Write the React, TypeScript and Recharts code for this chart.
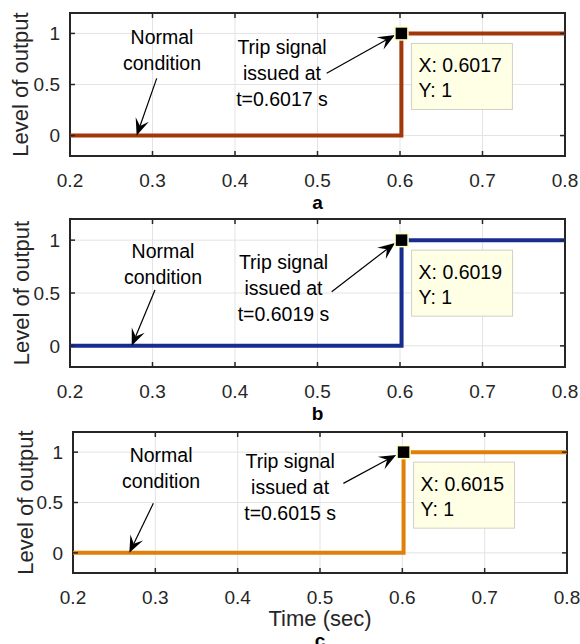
import { LineChart, Line, XAxis, YAxis, CartesianGrid, ReferenceArea, ReferenceDot, ReferenceLine } from 'recharts'

// step signals, one per panel (time in s, output level)
const TIME_A = [0.2, 0.6017, 0.6017, 0.8]
const TIME_B = [0.2, 0.6019, 0.6019, 0.8]
const TIME_C = [0.2, 0.6015, 0.6015, 0.8]
const LEVEL = [0, 0, 1, 1]
const TRIP_TIMES = [0.6017, 0.6019, 0.6015]
const PANEL_LETTERS = ['a', 'b', 'c']

const X_TICKS = [0.2, 0.3, 0.4, 0.5, 0.6, 0.7, 0.8]
const Y_TICKS = [0, 0.5, 1]
const X_DOMAIN = [0.2, 0.8]
const Y_DOMAIN = [-0.2, 1.2]

const FONT = '"Liberation Sans", Arial, Helvetica, sans-serif'
const AXIS = '#262626'

type Pt = [number, number]
interface Panel {
  time: number[]
  color: string
  top: number
  height: number
  plotTop: number
  plotBottom: number
  left: number
  right: number
  yLabelX: number
  xTitle?: string
  letterDy: number
  normal: Pt
  normalArrow: [Pt, Pt]
  trip: Pt
  tripArrow: [Pt, Pt]
}

const PANELS: Panel[] = [
  {
    time: TIME_A, color: '#A1370B', top: 0, height: 215, plotTop: 13, plotBottom: 156, left: 70, right: 565,
    yLabelX: 20, letterDy: 53,
    normal: [0.3115, 0.8376], normalArrow: [[0.3051, 0.56], [0.2808, 0]],
    trip: [0.457, 0.61], tripArrow: [[0.5111, 0.61], [0.5939, 0.985]],
  },
  {
    time: TIME_B, color: '#192D8E', top: 205, height: 222, plotTop: 14, plotBottom: 162, left: 70, right: 565,
    yLabelX: 21, letterDy: 53,
    normal: [0.3127, 0.77], normalArrow: [[0.303, 0.528], [0.2748, 0]],
    trip: [0.4588, 0.547], tripArrow: [[0.5172, 0.512], [0.5939, 0.973]],
  },
  {
    time: TIME_C, color: '#E0800A', top: 420, height: 224, plotTop: 12, plotBottom: 153, left: 73, right: 567,
    yLabelX: 25, xTitle: 'Time (sec)', letterDy: 74,
    normal: [0.307, 0.8375], normalArrow: [[0.2976, 0.492], [0.2684, 0]],
    trip: [0.4637, 0.657], tripArrow: [[0.5284, 0.69], [0.5925, 0.972]],
  },
]

const textLines = (lines: string[]) => (props: any) => {
  const { cx, cy } = props
  const gap = 26
  const start = cy - ((lines.length - 1) * gap) / 2
  return (
    <g>
      {lines.map((l, i) => (
        <text key={i} x={cx} y={start + i * gap} dy="0.35em" textAnchor="middle" fontSize={19.5} fontFamily={FONT} fill="#000">
          {l}
        </text>
      ))}
    </g>
  )
}

const arrowShape = (props: any) => {
  const { x1, y1, x2, y2 } = props
  const a = Math.atan2(y2 - y1, x2 - x1)
  const c = Math.cos(a)
  const s = Math.sin(a)
  const L = 17
  const W = 7
  const bx = x2 - L * c
  const by = y2 - L * s
  const nx = x2 - L * 0.6 * c
  const ny = y2 - L * 0.6 * s
  const pts = [
    [x2, y2],
    [bx - W * s, by + W * c],
    [nx, ny],
    [bx + W * s, by - W * c],
  ]
  return (
    <g>
      <line x1={x1} y1={y1} x2={nx} y2={ny} stroke="#000" strokeWidth={1.2} />
      <polygon points={pts.map((p) => p.join(',')).join(' ')} fill="#000" />
    </g>
  )
}

const dataTip = (t: number) => (props: any) => {
  const { cx, cy } = props
  return (
    <g>
      <rect x={cx + 10} y={cy + 10} width={101} height={66} fill="#FFFFE6" stroke="#D0D0C4" strokeWidth={1} />
      <text x={cx + 17} y={cy + 39} fontSize={19.5} fontFamily={FONT} fill="#000">{`X: ${t.toFixed(4)}`}</text>
      <text x={cx + 17} y={cy + 64} fontSize={19.5} fontFamily={FONT} fill="#000">Y: 1</text>
      <rect x={cx - 6.5} y={cy - 6.5} width={13} height={13} fill="#000" stroke="#FFFFC0" strokeWidth={1.5} />
    </g>
  )
}

function PanelChart({ p, idx }: { p: Panel; idx: number }) {
  const data = p.time.map((t, i) => ({ t, v: LEVEL[i] }))
  const xAxisHeight = p.height - p.plotBottom
  const tripT = TRIP_TIMES[idx]

  const xTick = (props: any) => {
    const { x, y, payload } = props
    return (
      <g>
        <line x1={x} y1={p.plotBottom} x2={x} y2={p.plotBottom - 5} stroke={AXIS} strokeWidth={1.5} />
        <line x1={x} y1={p.plotTop} x2={x} y2={p.plotTop + 5} stroke={AXIS} strokeWidth={1.5} />
        <text x={x} y={y + 31} textAnchor="middle" fontSize={19} fontFamily={FONT} fill={AXIS}>
          {payload.value}
        </text>
      </g>
    )
  }

  const yTick = (props: any) => {
    const { y, payload } = props
    return (
      <g>
        <line x1={p.left} y1={y} x2={p.left + 5} y2={y} stroke={AXIS} strokeWidth={1.5} />
        <line x1={p.right} y1={y} x2={p.right - 5} y2={y} stroke={AXIS} strokeWidth={1.5} />
        <text x={p.left - 10} y={y} dy="0.35em" textAnchor="end" fontSize={19} fontFamily={FONT} fill={AXIS}>
          {payload.value}
        </text>
      </g>
    )
  }

  const yLabel = (props: any) => {
    const vb = props.viewBox
    const cy = vb.y + vb.height / 2
    return (
      <text
        x={p.yLabelX}
        y={cy}
        dy="0.35em"
        textAnchor="middle"
        transform={`rotate(-90 ${p.yLabelX} ${cy})`}
        fontSize={22}
        fontFamily={FONT}
        fill={AXIS}
      >
        Level of output
      </text>
    )
  }

  const xLabel = (props: any) => {
    const vb = props.viewBox
    const cx = vb.x + vb.width / 2
    return (
      <g>
        {p.xTitle && (
          <text x={cx} y={vb.y + 53} textAnchor="middle" fontSize={22} fontFamily={FONT} fill={AXIS}>
            {p.xTitle}
          </text>
        )}
        <text x={cx} y={vb.y + p.letterDy} textAnchor="middle" fontSize={19} fontWeight="bold" fontFamily={FONT} fill="#000">
          {PANEL_LETTERS[idx]}
        </text>
      </g>
    )
  }

  return (
    <div style={{ position: 'absolute', left: 0, top: p.top }}>
      <LineChart
        width={580}
        height={p.height}
        data={data}
        margin={{ top: p.plotTop, right: 580 - p.right, bottom: 0, left: 0 }}
      >
        <CartesianGrid stroke="#E3E3E3" strokeWidth={1} />
        <XAxis
          dataKey="t"
          type="number"
          domain={X_DOMAIN}
          ticks={X_TICKS}
          interval={0}
          allowDataOverflow
          height={xAxisHeight}
          axisLine={false}
          tickLine={false}
          tickSize={0}
          tickMargin={0}
          tick={xTick}
          label={xLabel}
        />
        <YAxis
          type="number"
          domain={Y_DOMAIN}
          ticks={Y_TICKS}
          interval={0}
          allowDataOverflow
          width={p.left}
          axisLine={false}
          tickLine={false}
          tickSize={0}
          tickMargin={0}
          tick={yTick}
          label={yLabel}
        />
        <ReferenceArea x1={0.2} x2={0.8} y1={-0.2} y2={1.2} fill="none" fillOpacity={0} stroke={AXIS} strokeWidth={2} />
        <Line dataKey="v" type="linear" stroke={p.color} strokeWidth={4} dot={false} isAnimationActive={false} />
        <ReferenceDot x={p.normal[0]} y={p.normal[1]} r={0} shape={textLines(['Normal', 'condition'])} />
        <ReferenceDot
          x={p.trip[0]}
          y={p.trip[1]}
          r={0}
          shape={textLines(['Trip signal', 'issued at', `t=${tripT.toFixed(4)} s`])}
        />
        <ReferenceLine
          segment={[{ x: p.normalArrow[0][0], y: p.normalArrow[0][1] }, { x: p.normalArrow[1][0], y: p.normalArrow[1][1] }]}
          shape={arrowShape}
        />
        <ReferenceLine
          segment={[{ x: p.tripArrow[0][0], y: p.tripArrow[0][1] }, { x: p.tripArrow[1][0], y: p.tripArrow[1][1] }]}
          shape={arrowShape}
        />
        <ReferenceDot x={tripT} y={1} r={0} shape={dataTip(tripT)} />
      </LineChart>
    </div>
  )
}

export default function App() {
  return (
    <div style={{ position: 'absolute', left: 0, top: 0, width: 580, height: 644, background: '#fff', overflow: 'hidden' }}>
      {PANELS.map((p, i) => (
        <PanelChart key={i} p={p} idx={i} />
      ))}
    </div>
  )
}
